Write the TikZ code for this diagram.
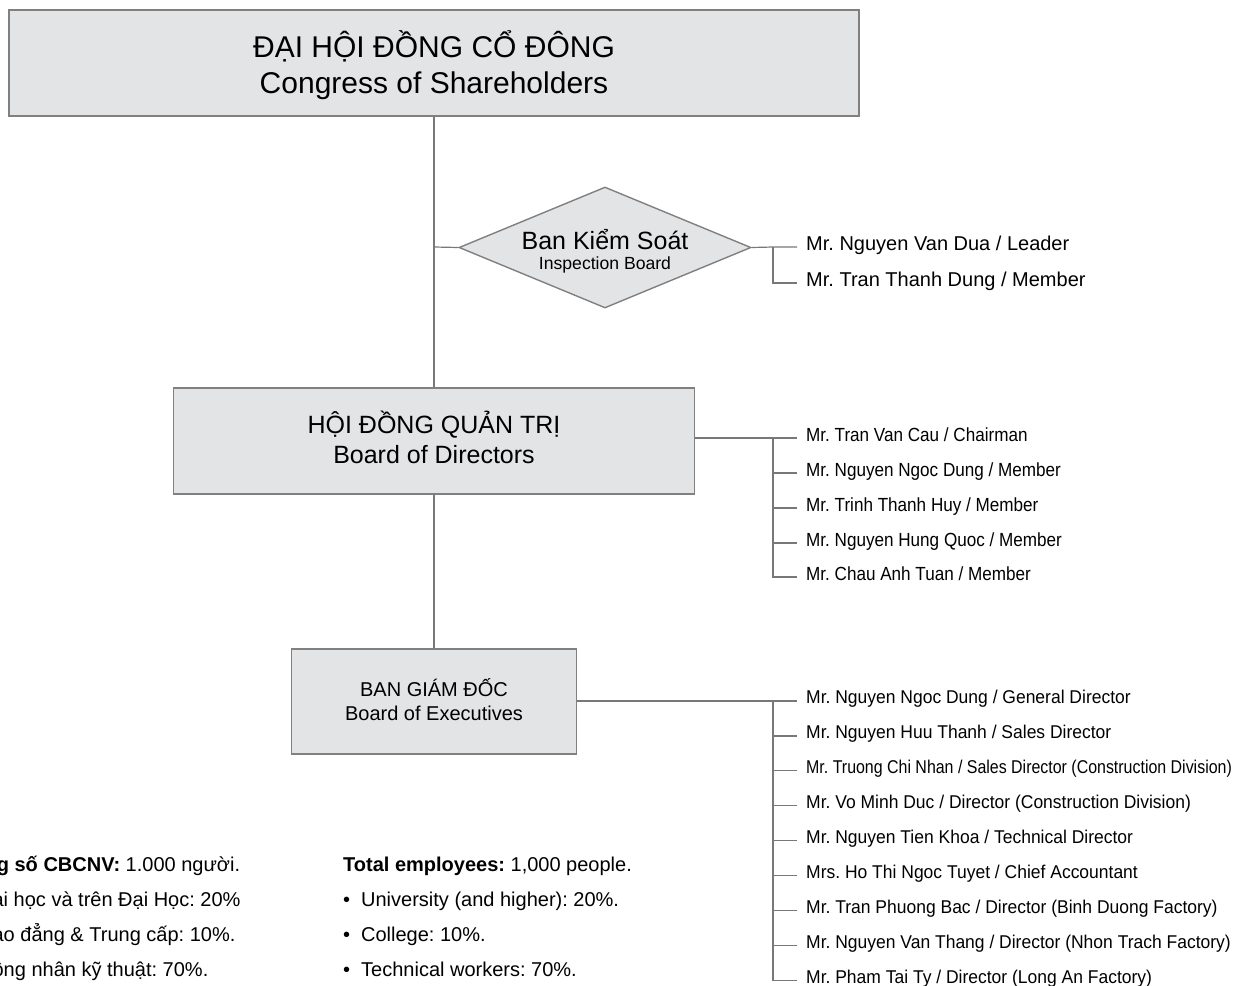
\documentclass[tikz,border=0pt]{standalone}
\usepackage{graphicx}
\usepackage{fontspec}
\setmainfont{Liberation Sans}
\usetikzlibrary{shapes.geometric}
\definecolor{boxfill}{RGB}{227,228,230}
\definecolor{boxline}{RGB}{128,128,128}
\definecolor{conn}{RGB}{120,120,120}
\newcommand\sqzb[1]{\scalebox{0.9}[1]{#1}}
\newcommand\sqze[1]{\scalebox{0.945}[1]{#1}}
\frenchspacing
\begin{document}
\begin{tikzpicture}[x=1pt,y=-1pt,
  box/.style={draw=boxline, fill=boxfill, line width=1.4pt, inner sep=0pt},
  boxtext/.style={inner sep=0pt, align=center},
  link/.style={draw=conn, line width=1.2pt},
  namenode/.style={anchor=base west, inner sep=0pt, inner xsep=9pt, font=\fontsize{19}{22}\selectfont},
  exnamenode/.style={namenode, font=\fontsize{18.5}{22}\selectfont},
  bignamenode/.style={namenode, font=\fontsize{20}{23}\selectfont},
  stat/.style={anchor=base west, inner sep=0pt, font=\fontsize{20}{24}\selectfont},
]
\useasboundingbox (0,0) rectangle (1241,985);
\clip (0,0) rectangle (1241,985);

% main boxes
\node[box, minimum width=850pt, minimum height=106pt] (top) at (434,63) {};
\node[boxtext, font=\fontsize{30}{36}\selectfont] (toptext) at ([yshift=-2pt]top.center)
  {ĐẠI HỘI ĐỒNG CỔ ĐÔNG\\Congress of Shareholders};
\node[box, minimum width=521pt, minimum height=106pt] (bod) at (434,441) {};
\node[boxtext, font=\fontsize{25}{30}\selectfont] (bodtext) at ([yshift=4pt]bod.center)
  {HỘI ĐỒNG QUẢN TRỊ\\Board of Directors};
\node[box, minimum width=285pt, minimum height=105pt] (exe) at (434,701.5) {};
\node[boxtext, font=\fontsize{20}{24}\selectfont] (exetext) at ([yshift=2pt]exe.center)
  {BAN GIÁM ĐỐC\\Board of Executives};
\node[box, diamond, aspect=2.4, minimum width=292pt, minimum height=121pt] (ks) at (605,247.5) {};
\node[boxtext, font=\fontsize{17.6}{20}\selectfont] (kstext) at ([yshift=-4pt]ks.center)
  {{\fontsize{25}{20}\selectfont Ban Kiểm Soát}\\Inspection Board};

% spine
\coordinate (dj) at (434,247);
\draw[link] (top.south) -- (bod.north);
\draw[link] (bod.south) -- (exe.north);
\draw[link] (dj) -- (ks.west);

% inspection board members
\coordinate (kj) at (773,247);
\node[bignamenode] (k1) at (797,250) {Mr. Nguyen Van Dua / Leader};
\node[bignamenode] (k2) at (797,286) {Mr. Tran Thanh Dung / Member};
\draw[link] (ks.east) -- (kj) -- ([yshift=3pt]k1.base west);
\draw[link] (kj) |- ([yshift=3pt]k2.base west);

% board of directors members
\coordinate (bj) at (773,438);
\node[namenode] (b1) at (797,441) {\sqzb{Mr. Tran Van Cau / Chairman}};
\node[namenode] (b2) at (797,476) {\sqzb{Mr. Nguyen Ngoc Dung / Member}};
\node[namenode] (b3) at (797,511) {\sqzb{Mr. Trinh Thanh Huy / Member}};
\node[namenode] (b4) at (797,546) {\sqzb{Mr. Nguyen Hung Quoc / Member}};
\node[namenode] (b5) at (797,580) {\sqzb{Mr. Chau Anh Tuan / Member}};
\draw[link] (bj -| bod.east) -- (bj) -- ([yshift=3pt]b1.base west);
\foreach \n in {b2,b3,b4,b5}{
  \draw[link] (bj) |- ([yshift=3pt]\n.base west);
}

% board of executives members
\coordinate (ej) at (773,701);
\node[exnamenode] (e1) at (797,703.8) {\sqze{Mr. Nguyen Ngoc Dung / General Director}};
\node[exnamenode] (e2) at (797,738.7) {\sqze{Mr. Nguyen Huu Thanh / Sales Director}};
\node[exnamenode] (e3) at (797,773.6) {\scalebox{0.862}[1]{Mr. Truong Chi Nhan / Sales Director (Construction Division)}};
\node[exnamenode] (e4) at (797,808.5) {\sqze{Mr. Vo Minh Duc / Director (Construction Division)}};
\node[exnamenode] (e5) at (797,843.4) {\sqze{Mr. Nguyen Tien Khoa / Technical Director}};
\node[exnamenode] (e6) at (797,878.3) {\sqze{Mrs. Ho Thi Ngoc Tuyet / Chief Accountant}};
\node[exnamenode] (e7) at (797,913.2) {\sqze{Mr. Tran Phuong Bac / Director (Binh Duong Factory)}};
\node[exnamenode] (e8) at (797,948.1) {\sqze{Mr. Nguyen Van Thang / Director (Nhon Trach Factory)}};
\node[exnamenode] (e9) at (797,983.0) {\sqze{Mr. Pham Tai Ty / Director (Long An Factory)}};
\draw[link] (exe.east |- ej) -- (ej) -- ([yshift=2.8pt]e1.base west);
\foreach \n in {e2,e3,e4,e5,e6,e7,e8,e9}{
  \draw[link] (ej) |- ([yshift=2.8pt]\n.base west);
}

% staff statistics (Vietnamese, cut by the left edge)
\node[stat] (v1) at (-40,871) {\textbf{Tổng số CBCNV:} 1.000 người.};
\node[stat] (v2) at (-40,906) {\makebox[18pt][l]{•}Đại học và trên Đại Học: 20\%};
\node[stat] (v3) at (-40,941) {\makebox[18pt][l]{•}Cao đẳng \& Trung cấp: 10\%.};
\node[stat] (v4) at (-40,976) {\makebox[18pt][l]{•}Công nhân kỹ thuật: 70\%.};

% staff statistics (English)
\node[stat] (s1) at (343,871) {\textbf{Total employees:} 1,000 people.};
\node[stat] (s2) at (343,906) {\makebox[18pt][l]{•}University (and higher): 20\%.};
\node[stat] (s3) at (343,941) {\makebox[18pt][l]{•}College: 10\%.};
\node[stat] (s4) at (343,976) {\makebox[18pt][l]{•}Technical workers: 70\%.};
\end{tikzpicture}
\end{document}
